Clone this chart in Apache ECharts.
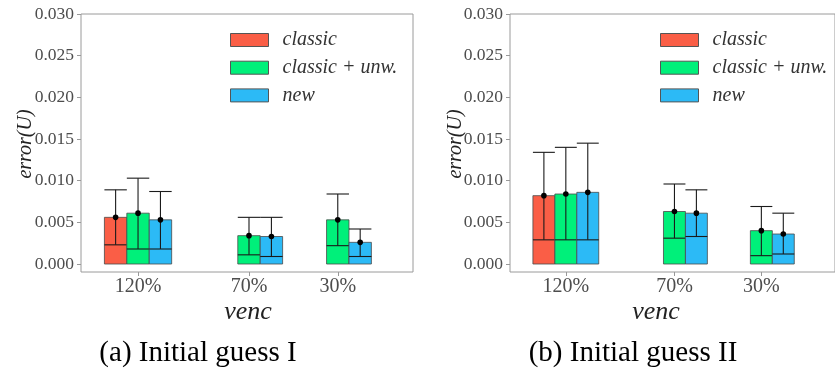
<!DOCTYPE html>
<html>
<head>
<meta charset="utf-8">
<script src="https://cdn.jsdelivr.net/npm/echarts@6/dist/echarts.min.js"></script>
<style>
  html, body { margin: 0; padding: 0; background: #fff; }
  #container { width: 835px; height: 372px; }
</style>
</head>
<body>
<div id="container"></div>
<script>
// venc levels on the x axis
var vencValues = [120, 70, 30];
var groupNames = ['classic', 'classic + unw.', 'new'];
var yTicks = [0, 0.005, 0.010, 0.015, 0.020, 0.025, 0.030];

// rows: classic, classic + unw., new ; columns: 120%, 70%, 30%
// (a) Initial guess I
var meanA = [[0.0056, null, null], [0.0061, 0.0034, 0.0053], [0.0053, 0.0033, 0.0026]];
var lowA  = [[0.0023, null, null], [0.0018, 0.0011, 0.0022], [0.0018, 0.0009, 0.0009]];
var highA = [[0.0089, null, null], [0.0103, 0.0056, 0.0084], [0.0087, 0.0056, 0.0042]];
// (b) Initial guess II
var meanB = [[0.0082, null, null], [0.0084, 0.0063, 0.0040], [0.0086, 0.0061, 0.0036]];
var lowB  = [[0.0029, null, null], [0.0029, 0.0031, 0.0010], [0.0029, 0.0033, 0.0012]];
var highB = [[0.0134, null, null], [0.0140, 0.0096, 0.0069], [0.0145, 0.0089, 0.0061]];

var colors = ['#FA5E46', '#00F07A', '#2CBAF6'];
var slot = 10.1;          // width of one dodged bar, in venc units
var serif = 'Liberation Serif';

window.onload = function()
{
var myChart = echarts.init(document.getElementById('container'), null, {renderer: 'canvas'});

function renderItem(params, api) {
    var g = params.seriesIndex % 3;
    var c = api.value(0) + (1 - g) * slot;   // classic left, new right (axis is inverted)
    var top = api.coord([c, api.value(1)]);
    var base = api.coord([c, 0]);
    var lo = api.coord([c, api.value(2)]);
    var hi = api.coord([c, api.value(3)]);
    var w = api.size([slot, 0])[0];
    var x0 = top[0] - w / 2;
    var lineStyle = {stroke: '#1a1a1a', lineWidth: 1.1};
    return {
        type: 'group',
        children: [
            {type: 'rect', shape: {x: x0, y: top[1], width: w, height: base[1] - top[1]},
             style: {fill: colors[g], stroke: '#4a4a4a', lineWidth: 0.8}},
            {type: 'line', shape: {x1: x0, y1: lo[1], x2: x0 + w, y2: lo[1]}, style: lineStyle},
            {type: 'line', shape: {x1: top[0], y1: lo[1], x2: top[0], y2: hi[1]}, style: lineStyle},
            {type: 'line', shape: {x1: x0, y1: hi[1], x2: x0 + w, y2: hi[1]}, style: lineStyle},
            {type: 'circle', shape: {cx: top[0], cy: top[1], r: 2.8}, style: {fill: '#000'}}
        ]
    };
}

function buildSeries(panel, mean, low, high) {
    var out = [];
    for (var g = 0; g < 3; g++) {
        var data = [];
        for (var i = 0; i < vencValues.length; i++) {
            if (mean[g][i] == null) continue;
            data.push([vencValues[i], mean[g][i], low[g][i], high[g][i]]);
        }
        out.push({
            type: 'custom',
            name: groupNames[g],
            xAxisIndex: panel,
            yAxisIndex: panel,
            renderItem: renderItem,
            itemStyle: {color: colors[g]},
            encode: {x: 0, y: [1, 2, 3]},
            data: data
        });
    }
    return out;
}

function xAxis(panel) {
    return {
        type: 'value', gridIndex: panel, inverse: true,
        min: -3.9, max: 145.7,
        axisLine: {show: false, onZero: false},
        splitLine: {show: false},
        axisTick: {show: true, length: 4, customValues: vencValues, lineStyle: {color: '#999'}},
        axisLabel: {customValues: vencValues, margin: 5, fontFamily: serif, fontSize: 20, color: '#4d4d4d',
                    formatter: function (v) { return v + '%'; }}
    };
}

function yAxis(panel) {
    return {
        type: 'value', gridIndex: panel,
        min: -0.00096, max: 0.030,
        axisLine: {show: false, onZero: false},
        splitLine: {show: false},
        axisTick: {show: true, length: 4, customValues: yTicks, lineStyle: {color: '#999'}},
        axisLabel: {customValues: yTicks, margin: 7, fontFamily: serif, fontSize: 17.5, color: '#4d4d4d',
                    formatter: function (v) { return v.toFixed(3); }}
    };
}

function legend(left) {
    return {
        orient: 'vertical', left: left, top: 30, padding: 0,
        itemWidth: 38, itemHeight: 13, itemGap: 7.7,
        icon: 'rect',
        selectedMode: false,
        itemStyle: {borderColor: '#555', borderWidth: 1},
        textStyle: {fontFamily: serif, fontStyle: 'italic', fontSize: 20,
                    color: '#333', padding: [0, 0, 0, 9]},
        data: groupNames
    };
}

function text(x, y, str, size, opts) {
    var t = {type: 'text', x: x, y: y,
        style: {text: str, fontFamily: serif, fontSize: size, fill: opts.fill || '#222',
                fontStyle: opts.italic ? 'italic' : 'normal',
                textAlign: 'center', textVerticalAlign: 'middle'}};
    if (opts.rotate) t.rotation = Math.PI / 2;
    return t;
}

option = {
    animation: false,
    grid: [
        {left: 81, top: 14, width: 332, height: 258, show: true, borderColor: '#9a9a9a', borderWidth: 1},
        {left: 510, top: 14, width: 332, height: 258, show: true, borderColor: '#9a9a9a', borderWidth: 1}
    ],
    xAxis: [xAxis(0), xAxis(1)],
    yAxis: [yAxis(0), yAxis(1)],
    legend: [legend(230), legend(660)],
    graphic: [
        text(25.5, 144, 'error(U)', 20, {italic: true, rotate: true}),
        text(455.5, 144, 'error(U)', 20, {italic: true, rotate: true}),
        text(248, 312, 'venc', 26, {italic: true}),
        text(656, 312, 'venc', 26, {italic: true}),
        text(198, 353, '(a) Initial guess I', 29, {fill: '#000'}),
        text(633, 353, '(b) Initial guess II', 29, {fill: '#000'})
    ],
    series: buildSeries(0, meanA, lowA, highA).concat(buildSeries(1, meanB, lowB, highB))
};

myChart.setOption(option);
};
</script>
</body>
</html>
